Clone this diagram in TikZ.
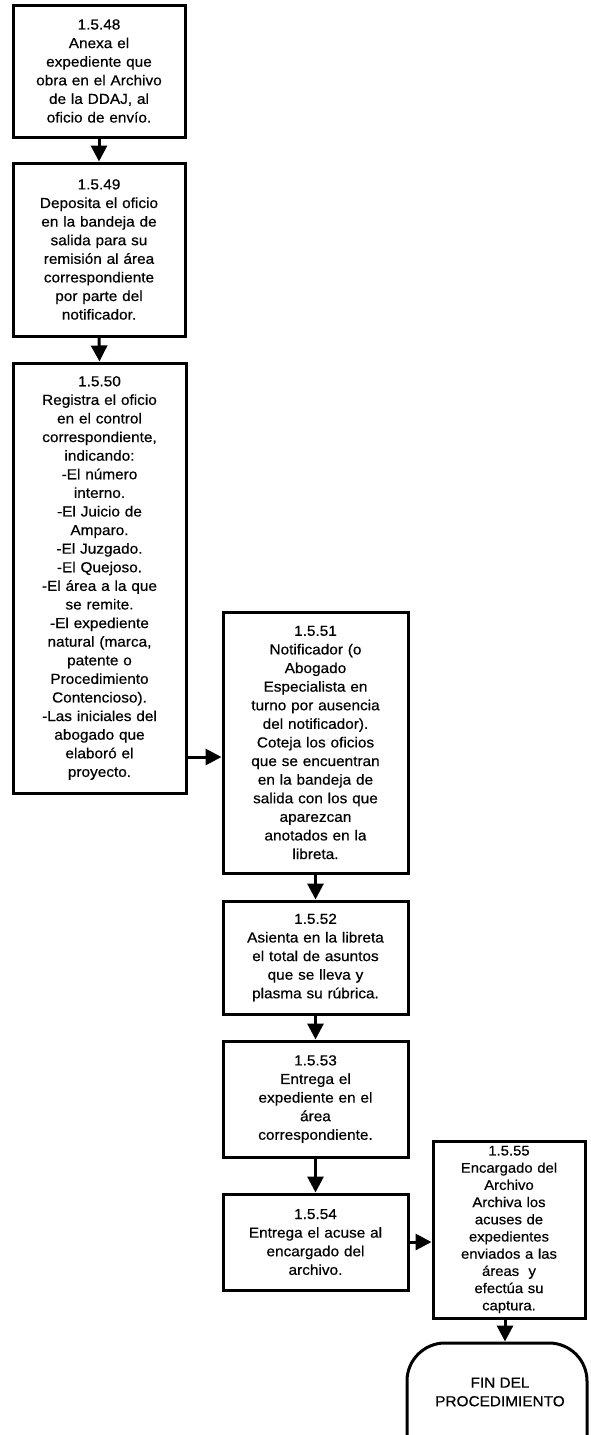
\documentclass[tikz,border=0pt]{standalone}
\usepackage{fontspec}
\setmainfont[FakeStretch=1.06,FakeBold=0.5]{Liberation Sans}
\usetikzlibrary{arrows.meta}
\begin{document}
\begin{tikzpicture}[x=1pt,y=-1pt,
  box/.style={draw, line width=3pt, inner sep=0pt, align=center,
    font=\fontsize{14.5}{18.6}\selectfont},
  tbox/.style={box, font=\fontsize{14}{17.2}\selectfont},
  lbl/.style={inner sep=0pt, align=center, font=\fontsize{14.5}{18.6}\selectfont},
  arr/.style={line width=3pt, -{Triangle[length=16pt,width=16pt]}}]
\useasboundingbox (0,0) rectangle (590,1435);

\node[box, minimum width=172pt, minimum height=132pt, text width=166pt] (b1) at (99,71)
 {1.5.48\\Anexa el\\expediente que\\obra en el Archivo\\de la DDAJ, al\\oficio de envío.};
\node[box, minimum width=172pt, minimum height=173pt, text width=166pt] (b2) at (99,249.5)
 {1.5.49\\Deposita el oficio\\en la bandeja de\\salida para su\\remisión al área\\correspondiente\\por parte del\\notificador.};
\node[box, minimum width=173pt, minimum height=430pt, text width=167pt] (b3) at (99.5,578)
 {1.5.50\\Registra el oficio\\en el control\\correspondiente,\\indicando:\\-El número\\interno.\\-El Juicio de\\Amparo.\\-El Juzgado.\\-El Quejoso.\\-El área a la que\\se remite.\\-El expediente\\natural (marca,\\patente o\\Procedimiento\\Contencioso).\\-Las iniciales del\\abogado que\\elaboró el\\proyecto.};
\node[box, minimum width=185pt, minimum height=261pt, text width=179pt] (b4) at (315.5,742.5)
 {1.5.51\\Notificador (o\\Abogado\\Especialista en\\turno por ausencia\\del notificador).\\Coteja los oficios\\que se encuentran\\en la bandeja de\\salida con los que\\aparezcan\\anotados en la\\libreta.};
\node[box, minimum width=185pt, minimum height=113pt, text width=179pt] (b5) at (315.5,957.5)
 {1.5.52\\Asienta en la libreta\\el total de asuntos\\que se lleva y\\plasma su rúbrica.};
\node[box, minimum width=185pt, minimum height=116pt, text width=179pt] (b6) at (315.5,1099)
 {1.5.53\\Entrega el\\expediente en el\\área\\correspondiente.};
\node[box, minimum width=185pt, minimum height=96pt, text width=179pt] (b7) at (315.5,1242)
 {1.5.54\\Entrega el acuse al\\encargado del\\archivo.};
\node[tbox, minimum width=152pt, minimum height=177pt, text width=146pt] (b8) at (509,1229.5)
 {1.5.55\\Encargado del\\Archivo\\Archiva los\\acuses de\\expedientes\\enviados a las\\áreas~ y\\efectúa su\\captura.};
\node[draw, line width=3pt, rounded corners=38pt, minimum width=180pt, minimum height=130pt, inner sep=0pt] (fin) at (497,1408) {};
\node[lbl] (fintext) at (500,1392) {FIN DEL\\PROCEDIMIENTO};

\coordinate (j1) at (0,757);
\draw[arr] (b1.south) -- (b2.north);
\draw[arr] (b2.south) -- (b3.north);
\draw[arr] (b3.east |- j1) -- (b4.west |- j1);
\draw[arr] (b4.south) -- (b5.north);
\draw[arr] (b5.south) -- (b6.north);
\draw[arr] (b6.south) -- (b7.north);
\draw[arr] (b7.east) -- (b8.west |- b7.east);
\coordinate (j2) at (505,0);
\draw[arr] (b8.south -| j2) -- (fin.north -| j2);
\end{tikzpicture}
\end{document}
